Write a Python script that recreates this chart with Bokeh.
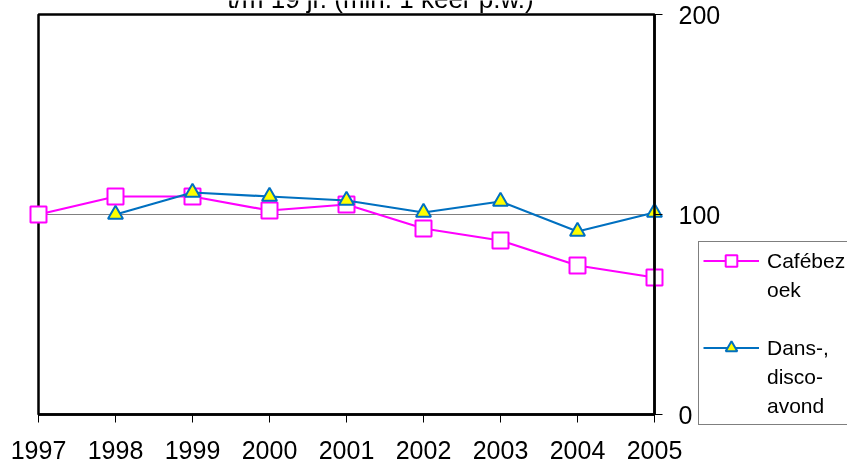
from bokeh.plotting import figure
from bokeh.models import (Range1d, FixedTicker, Legend, LegendItem, Label,
                          BoxAnnotation)
from bokeh.core.properties import value
from bokeh.embed import file_html
from bokeh.resources import INLINE

# ---- data ----
years = [1997, 1998, 1999, 2000, 2001, 2002, 2003, 2004, 2005]
cafe = [100, 109, 109, 102, 105, 93, 87, 74.5, 68.5]
dans_years = [1998, 1999, 2000, 2001, 2002, 2003, 2004, 2005]
dans = [100, 111, 109, 107, 101, 106.5, 91.5, 101]
y_ticks = [0, 100, 200]
grid_ticks = [100]
title_text = "t/m 19 jr. (min. 1 keer p.w.)"
legend_cafe_lines = ["Cafébez", "oek"]
legend_dans_lines = ["Dans-,", "disco-", "avond"]

FONT = "Liberation Sans"
MAGENTA = "#FF00FF"
BLUE = "#0070C0"
YELLOW = "#FFFF00"

# window geometry (page px)
WIN_W, WIN_H = 847, 469
BOX_L, BOX_R, BOX_T, BOX_B = 38, 654, 14, 414   # visible chart box
EXTRA_R, EXTRA_B = 70, 60                        # axis panels, off-window

PX_PER_X = (BOX_R - BOX_L) / (years[-1] - years[0])
PX_PER_Y = (BOX_B - BOX_T) / (y_ticks[-1] - y_ticks[0])
X_START = years[0] - BOX_L / PX_PER_X
X_END = years[0] + (WIN_W - BOX_L) / PX_PER_X
Y_START = y_ticks[0] - (WIN_H - BOX_B) / PX_PER_Y
Y_END = y_ticks[-1] + BOX_T / PX_PER_Y


def x_at(px):
    return years[0] + (px - BOX_L) / PX_PER_X


def y_at(py):
    return y_ticks[-1] - (py - BOX_T) / PX_PER_Y


p = figure(width=WIN_W + EXTRA_R, height=WIN_H + EXTRA_B,
           output_backend="svg", toolbar_location=None,
           x_range=Range1d(X_START, X_END),
           y_range=Range1d(Y_START, Y_END),
           y_axis_location="right",
           min_border_left=0, min_border_right=EXTRA_R,
           min_border_top=0, min_border_bottom=EXTRA_B)
p.styles = {"position": "fixed", "left": "0px", "top": "0px"}
p.background_fill_color = "white"
p.border_fill_color = "white"
p.outline_line_color = None
p.xgrid.visible = False
p.ygrid.visible = False

# chart box
p.add_layout(BoxAnnotation(left=years[0], right=years[-1], bottom=y_ticks[0],
                           top=y_ticks[-1], fill_alpha=0, line_color="black",
                           line_alpha=1, line_width=2.5, level="underlay"))

# horizontal gridline at 100
p.segment(x0=[years[0]] * len(grid_ticks), y0=grid_ticks,
          x1=[years[-1]] * len(grid_ticks), y1=grid_ticks,
          line_color="#808080", line_width=1)

xa = p.xaxis[0]
xa.fixed_location = y_ticks[0]
xa.ticker = FixedTicker(ticks=years)
xa.bounds = (years[0], years[-1])
xa.major_label_text_font = FONT
xa.major_label_text_font_size = "25px"
xa.major_label_text_color = "black"
xa.major_tick_out = 8
xa.major_tick_in = 0
xa.major_tick_line_color = "black"
xa.minor_tick_line_color = None
xa.axis_line_color = "black"
xa.axis_line_width = 2.5
xa.major_label_standoff = 18

ya = p.yaxis[0]
ya.fixed_location = years[-1]
ya.ticker = FixedTicker(ticks=y_ticks)
ya.bounds = (y_ticks[0], y_ticks[-1])
ya.major_label_text_font = FONT
ya.major_label_text_font_size = "25px"
ya.major_label_text_color = "black"
ya.major_tick_out = 8
ya.major_tick_in = 0
ya.major_tick_line_color = "black"
ya.minor_tick_line_color = None
ya.axis_line_color = "black"
ya.axis_line_width = 2.5
ya.major_label_standoff = 16

l1 = p.line(years, cafe, line_color=MAGENTA, line_width=2.2)
s1 = p.scatter(years, cafe, marker="square", size=16, fill_color="white",
               line_color=MAGENTA, line_width=2)
l2 = p.line(dans_years, dans, line_color=BLUE, line_width=2.2)
s2 = p.scatter(dans_years, dans, marker="triangle", size=15, fill_color=YELLOW,
               line_color=BLUE, line_width=2)
# invisible renderer for text-only legend rows
ghost = p.line(x=[], y=[], line_alpha=0)

items = [LegendItem(label=value(legend_cafe_lines[0]), renderers=[l1, s1])]
items += [LegendItem(label=value(t), renderers=[ghost])
          for t in legend_cafe_lines[1:]]
items += [LegendItem(label=value(" "), renderers=[ghost])]
items += [LegendItem(label=value(legend_dans_lines[0]), renderers=[l2, s2])]
items += [LegendItem(label=value(t), renderers=[ghost])
          for t in legend_dans_lines[1:]]

LEG_L, LEG_T, ROW, PAD = 698, 243, 29, 4
leg_h = 2 * PAD + ROW * len(items)
legend = Legend(items=items,
                location=(LEG_L, WIN_H - (LEG_T + leg_h)),
                orientation="vertical", padding=PAD, spacing=0, margin=0,
                glyph_width=56, glyph_height=ROW, label_height=ROW,
                label_standoff=8, label_text_font=FONT,
                label_text_font_size="21px", label_text_color="black",
                border_line_color="black", border_line_width=1,
                background_fill_color="white", background_fill_alpha=1)
p.add_layout(legend)

# title (mostly cut off at the top edge, as in the reference)
p.add_layout(Label(x=x_at(380), y=y_at(13.5), text=title_text,
                   text_font=FONT, text_font_size="26px",
                   text_baseline="bottom", text_align="center",
                   text_color="black"))

open("out.html", "w").write(file_html(p, INLINE))
